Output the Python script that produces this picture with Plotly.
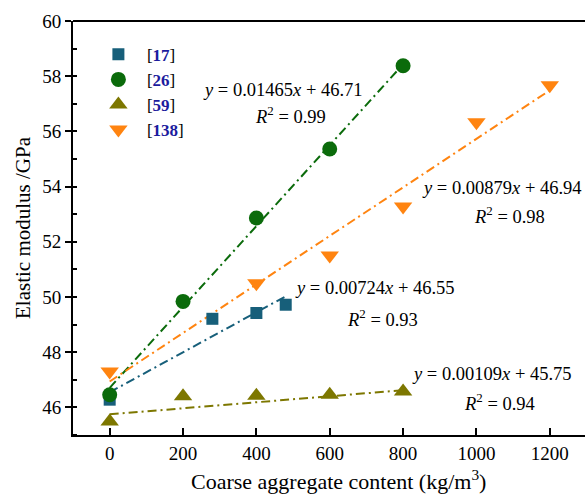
import plotly.graph_objects as go

# Measured elastic modulus (GPa) against coarse aggregate content (kg/m^3)
ref_labels = ["17", "26", "59", "138"]

x_17 = [0, 280, 400, 480]
y_17 = [46.28, 49.21, 49.42, 49.72]

x_26 = [0, 200, 400, 600, 800]
y_26 = [46.46, 49.84, 52.86, 55.36, 58.38]

x_59 = [0, 200, 400, 600, 800]
y_59 = [45.49, 46.40, 46.42, 46.46, 46.58]

x_138 = [0, 400, 600, 800, 1000, 1200]
y_138 = [47.30, 50.50, 51.50, 53.28, 56.33, 57.67]

# Linear fits: slope, intercept, R^2
fit_slope = [0.00724, 0.01465, 0.00109, 0.00879]
fit_intercept = [46.55, 46.71, 45.75, 46.94]
fit_r2 = [0.93, 0.99, 0.94, 0.98]

xs = [x_17, x_26, x_59, x_138]
ys = [y_17, y_26, y_59, y_138]

colors = ["#175f7a", "#0b6b0b", "#7d7700", "#ff8410"]
symbols = ["square", "circle", "triangle-up", "triangle-down"]
sizes = [12, 15, 16, 16]
label_blue = "#1c1c9e"
serif = "Liberation Serif"

fig = go.Figure()

# fitted lines, drawn over each series' x extent
for i in range(4):
    x0, x1 = min(xs[i]), max(xs[i])
    fig.add_trace(go.Scatter(
        x=[x0, x1],
        y=[fit_slope[i] * x0 + fit_intercept[i], fit_slope[i] * x1 + fit_intercept[i]],
        mode="lines",
        line=dict(color=colors[i], width=2, dash="9px,4px,2px,4px"),
        showlegend=False, hoverinfo="skip",
    ))

# measured points
for i in range(4):
    fig.add_trace(go.Scatter(
        x=xs[i], y=ys[i], mode="markers",
        marker=dict(symbol=symbols[i], size=sizes[i], color=colors[i], line=dict(width=0)),
        name="[<b><span style='color:%s'>%s</span></b>]" % (label_blue, ref_labels[i]),
        legendgroup="g%d" % i,
    ))

# equation labels (centre positions in data units)
eq_pos = [(723, 50.33, 743, 49.24),
          (472, 57.50, 494, 56.58),
          (1042, 47.21, 1062, 46.18),
          (1071, 53.95, 1091, 52.97)]
for i in range(4):
    ex, ey, rx, ry = eq_pos[i]
    fig.add_annotation(x=ex, y=ey, xref="x", yref="y", showarrow=False,
                       text="<i>y</i> = %.5f<i>x</i> + %.2f" % (fit_slope[i], fit_intercept[i]),
                       font=dict(family=serif, size=18.5, color="black"))
    fig.add_annotation(x=rx, y=ry, xref="x", yref="y", showarrow=False,
                       text="<i>R</i><sup>2</sup> = %.2f" % fit_r2[i],
                       font=dict(family=serif, size=18.5, color="black"))

# x-axis title, set slightly right of the plot centre
fig.add_annotation(x=0.518, y=-0.148, xref="paper", yref="paper", showarrow=False,
                   xanchor="center", yanchor="bottom",
                   text="Coarse aggregate content (kg/m<sup>3</sup>)",
                   font=dict(family=serif, size=22, color="black"))

# top frame line (the right side runs off the page)
fig.add_shape(type="line", xref="paper", yref="paper", x0=0, x1=1, y0=1, y1=1,
              line=dict(color="black", width=2))

fig.update_layout(
    width=585, height=497,
    margin=dict(l=73, r=0, t=21, b=62),
    paper_bgcolor="white", plot_bgcolor="white",
    font=dict(family=serif, size=19, color="black"),
    showlegend=True,
    legend=dict(x=0.033, y=0.962, xanchor="left", yanchor="top",
                font=dict(family=serif, size=17, color="black"),
                bgcolor="rgba(0,0,0,0)", tracegroupgap=0, itemwidth=47),
    xaxis=dict(range=[-100, 1296], tickvals=[0, 200, 400, 600, 800, 1000, 1200],
               ticks="inside", ticklen=7, tickwidth=2, tickcolor="black",
               showline=True, linecolor="black", linewidth=2,
               showgrid=False, zeroline=False,
               tickfont=dict(family=serif, size=19)),
    yaxis=dict(range=[45, 60], tickvals=[46, 48, 50, 52, 54, 56, 58, 60],
               ticks="outside", ticklen=6, tickwidth=2, tickcolor="black",
               minor=dict(dtick=1, ticks="inside", ticklen=4, tickwidth=2, tickcolor="black"),
               showline=True, linecolor="black", linewidth=2,
               showgrid=False, zeroline=False,
               tickfont=dict(family=serif, size=19),
               title=dict(text="Elastic modulus /GPa",
                          font=dict(family=serif, size=21), standoff=6)),
)

fig.write_html("out.html")
